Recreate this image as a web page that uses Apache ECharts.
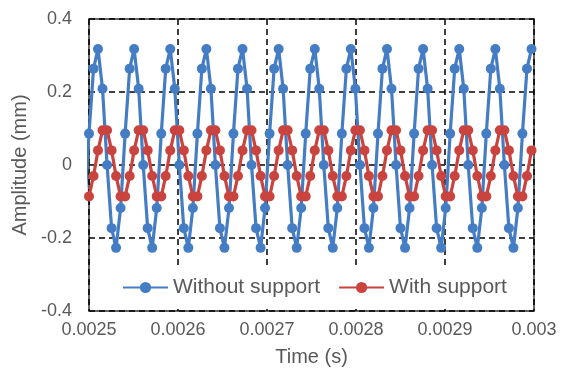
<!DOCTYPE html>
<html>
<head>
<meta charset="utf-8">
<script src="https://cdn.jsdelivr.net/npm/echarts@6/dist/echarts.min.js"></script>
<style>
  html, body { margin: 0; padding: 0; background: #fff; }
  #chart { width: 564px; height: 372px; }
</style>
</head>
<body>
<div id="chart"></div>
<script>
var chartDom = document.getElementById('chart');
var myChart = echarts.init(chartDom);

// sample times (s)
var times = [
  0.0024949,
  0.0025, 0.0025051, 0.0025101, 0.0025152, 0.0025203, 0.0025254, 0.0025304, 0.0025355,
  0.0025406, 0.0025457, 0.0025507, 0.0025558, 0.0025609, 0.0025659, 0.002571, 0.0025761,
  0.0025812, 0.0025862, 0.0025913, 0.0025964, 0.0026015, 0.0026065, 0.0026116, 0.0026167,
  0.0026218, 0.0026268, 0.0026319, 0.002637, 0.002642, 0.0026471, 0.0026522, 0.0026573,
  0.0026623, 0.0026674, 0.0026725, 0.0026776, 0.0026826, 0.0026877, 0.0026928, 0.0026978,
  0.0027029, 0.002708, 0.0027131, 0.0027181, 0.0027232, 0.0027283, 0.0027334, 0.0027384,
  0.0027435, 0.0027486, 0.0027537, 0.0027587, 0.0027638, 0.0027689, 0.0027739, 0.002779,
  0.0027841, 0.0027892, 0.0027942, 0.0027993, 0.0028044, 0.0028095, 0.0028145, 0.0028196,
  0.0028247, 0.0028297, 0.0028348, 0.0028399, 0.002845, 0.00285, 0.0028551, 0.0028602,
  0.0028653, 0.0028703, 0.0028754, 0.0028805, 0.0028855, 0.0028906, 0.0028957, 0.0029008,
  0.0029058, 0.0029109, 0.002916, 0.0029211, 0.0029261, 0.0029312, 0.0029363, 0.0029414,
  0.0029464, 0.0029515, 0.0029566, 0.0029616, 0.0029667, 0.0029718, 0.0029769, 0.0029819,
  0.002987, 0.0029921, 0.0029972
];

// amplitude (mm), without support
var withoutSupport = [
  -0.118,
  0.086, 0.264, 0.318, 0.209, 0.000, -0.173, -0.227, -0.118,
  0.086, 0.264, 0.318, 0.209, 0.000, -0.173, -0.227, -0.118,
  0.086, 0.264, 0.318, 0.209, 0.000, -0.173, -0.227, -0.118,
  0.086, 0.264, 0.318, 0.209, 0.000, -0.173, -0.227, -0.118,
  0.086, 0.264, 0.318, 0.209, 0.000, -0.173, -0.227, -0.118,
  0.086, 0.264, 0.318, 0.209, 0.000, -0.173, -0.227, -0.118,
  0.086, 0.264, 0.318, 0.209, 0.000, -0.173, -0.227, -0.118,
  0.086, 0.264, 0.318, 0.209, 0.000, -0.173, -0.227, -0.118,
  0.086, 0.264, 0.318, 0.209, 0.000, -0.173, -0.227, -0.118,
  0.086, 0.264, 0.318, 0.209, 0.000, -0.173, -0.227, -0.118,
  0.086, 0.264, 0.318, 0.209, 0.000, -0.173, -0.227, -0.118,
  0.086, 0.264, 0.318, 0.209, 0.000, -0.173, -0.227, -0.118,
  0.086, 0.264, 0.318
];

// amplitude (mm), with support
var withSupport = [
  -0.086,
  -0.086, -0.030, 0.040, 0.095, 0.095, 0.040, -0.030, -0.086,
  -0.086, -0.030, 0.040, 0.095, 0.095, 0.040, -0.030, -0.086,
  -0.086, -0.030, 0.040, 0.095, 0.095, 0.040, -0.030, -0.086,
  -0.086, -0.030, 0.040, 0.095, 0.095, 0.040, -0.030, -0.086,
  -0.086, -0.030, 0.040, 0.095, 0.095, 0.040, -0.030, -0.086,
  -0.086, -0.030, 0.040, 0.095, 0.095, 0.040, -0.030, -0.086,
  -0.086, -0.030, 0.040, 0.095, 0.095, 0.040, -0.030, -0.086,
  -0.086, -0.030, 0.040, 0.095, 0.095, 0.040, -0.030, -0.086,
  -0.086, -0.030, 0.040, 0.095, 0.095, 0.040, -0.030, -0.086,
  -0.086, -0.030, 0.040, 0.095, 0.095, 0.040, -0.030, -0.086,
  -0.086, -0.030, 0.040, 0.095, 0.095, 0.040, -0.030, -0.086,
  -0.086, -0.030, 0.040, 0.095, 0.095, 0.040, -0.030, -0.086,
  -0.086, -0.030, 0.040
];

var blue = '#457dc5';
var red = '#c9433f';
var textColor = '#595959';
var font = 'Liberation Sans, Arial, sans-serif';

function pairs(ys) {
  return times.map(function (t, i) { return [t, ys[i]]; });
}

var option = {
  animation: false,
  backgroundColor: '#fff',
  textStyle: { fontFamily: font },
  grid: {
    left: 89, right: 30, top: 19, bottom: 60,
    show: true, borderColor: '#333', borderWidth: 1.5
  },
  legend: {
    left: 116, top: 266,
    padding: [11, 6, 8, 6],
    backgroundColor: '#fff',
    itemWidth: 45, itemHeight: 14, itemGap: 18,
    textStyle: { fontSize: 21, color: textColor, fontFamily: font },
    data: ['Without support', 'With support']
  },
  xAxis: {
    type: 'value',
    min: 0.0025, max: 0.003, interval: 0.0001,
    name: 'Time (s)', nameLocation: 'middle', nameGap: 36,
    nameTextStyle: { fontSize: 20, color: textColor, fontFamily: font },
    axisLine: { show: false },
    axisTick: { show: true, inside: true, length: 5, lineStyle: { color: '#333', width: 1.5 } },
    axisLabel: {
      fontSize: 18, color: textColor, margin: 10, fontFamily: font,
      formatter: function (v) { return String(+v.toFixed(4)); }
    },
    splitLine: { show: true, lineStyle: { color: '#000', width: 1.5, type: [6, 4] } }
  },
  yAxis: {
    type: 'value',
    min: -0.4, max: 0.4, interval: 0.2,
    name: 'Amplitude (mm)', nameLocation: 'middle', nameGap: 48,
    nameTextStyle: { fontSize: 20, color: textColor, fontFamily: font },
    axisLine: { show: false },
    axisTick: { show: false },
    axisLabel: {
      fontSize: 18, color: textColor, margin: 17, fontFamily: font,
      formatter: function (v) { return String(+v.toFixed(1)); }
    },
    splitLine: { show: true, lineStyle: { color: '#000', width: 1.5, type: [6, 4] } }
  },
  series: [
    {
      name: 'Without support',
      type: 'line',
      data: pairs(withoutSupport),
      symbol: 'circle', symbolSize: 10, showAllSymbol: true,
      lineStyle: { width: 3.2, color: blue },
      itemStyle: { color: blue },
      clip: true
    },
    {
      name: 'With support',
      type: 'line',
      data: pairs(withSupport),
      symbol: 'circle', symbolSize: 10, showAllSymbol: true,
      lineStyle: { width: 3.2, color: red },
      itemStyle: { color: red },
      clip: true
    }
  ]
};

option && myChart.setOption(option);
</script>
</body>
</html>
